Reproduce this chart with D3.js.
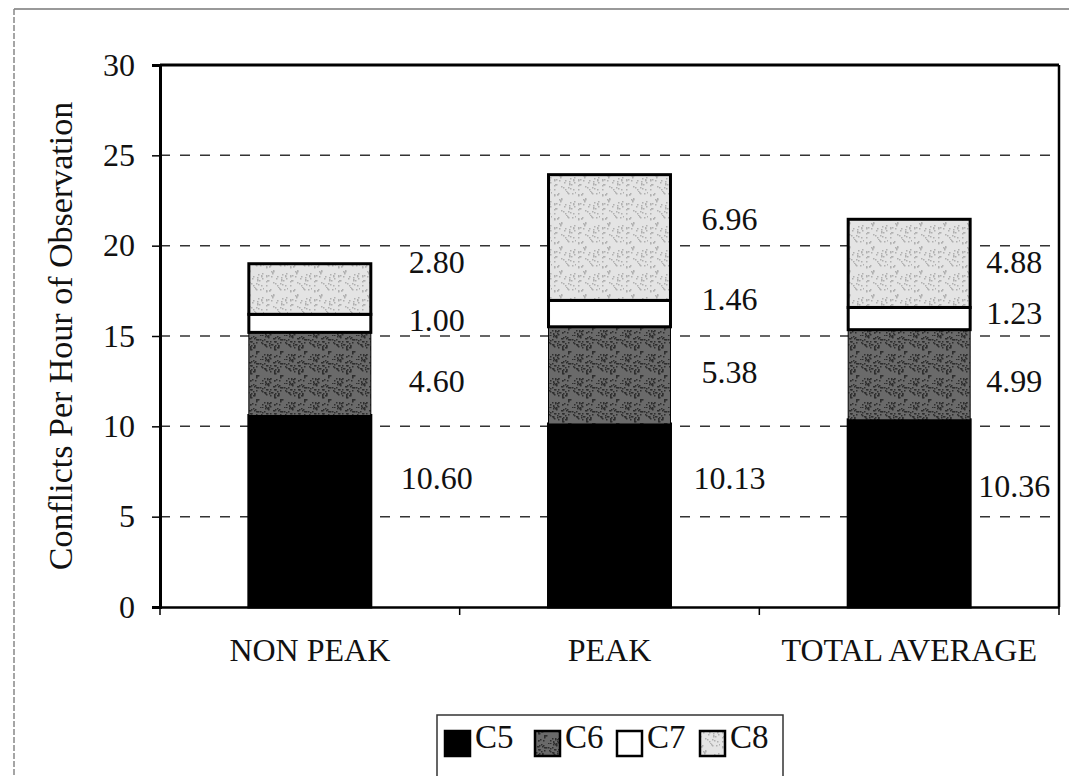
<!DOCTYPE html>
<html>
<head>
<meta charset="utf-8">
<script src="https://cdn.jsdelivr.net/npm/d3@7"></script>
<style>
  html, body { margin: 0; padding: 0; background: #fff; }
  svg { display: block; }
  text { font-family: "Liberation Serif", "DejaVu Serif", serif; fill: #111; }
</style>
</head>
<body>
<svg id="chart" width="1069" height="776"></svg>
<script>
// ---- data ----
const categories = ["NON PEAK", "PEAK", "TOTAL AVERAGE"];
const seriesNames = ["C5", "C6", "C7", "C8"];
const C5 = [10.60, 10.13, 10.36];
const C6 = [4.60, 5.38, 4.99];
const C7 = [1.00, 1.46, 1.23];
const C8 = [2.80, 6.96, 4.88];
const yTicks = [0, 5, 10, 15, 20, 25, 30];

// ---- layout constants (not data) ----
// vertical label nudge from segment middle, in value units, [series][category]
const labelNudge = [
  [1.84, 2.07, 1.52],
  [-0.4, 0.18, -0.35],
  [0.18, 0.8, 0.3],
  [1.5, 1.05, 0.08]
];
const labelShift = [127, 120, 105];         // label x offset from bar centre, px, per category

const seriesValues = [C5, C6, C7, C8];
const fills = ["#000000", "url(#pC6)", "#ffffff", "url(#pC8)"];

const svg = d3.select("#chart");
const margin = { left: 160, top: 65, right: 1059, bottom: 607 };

// patterns
const defs = svg.append("defs");
function stipple(id, base, dot, n, seed) {
  const p = defs.append("pattern").attr("id", id).attr("patternUnits", "userSpaceOnUse")
    .attr("width", 24).attr("height", 24);
  p.append("rect").attr("width", 24).attr("height", 24).attr("fill", base);
  let s = seed;
  const rnd = () => { s = (s * 9301 + 49297) % 233280; return s / 233280; };
  for (let i = 0; i < n; i++) {
    p.append("rect").attr("x", Math.floor(rnd() * 24)).attr("y", Math.floor(rnd() * 24))
      .attr("width", 1.5).attr("height", 1.5).attr("fill", dot);
  }
}
stipple("pC6", "#6a6a6a", "#2e2e2e", 70, 7);
stipple("pC8", "#e4e4e4", "#b0b0b0", 40, 13);

// outer frame
svg.append("line").attr("x1", 14).attr("x2", 1069).attr("y1", 9).attr("y2", 9)
  .attr("stroke", "#777").attr("stroke-width", 1.5);
svg.append("line").attr("x1", 14).attr("x2", 14).attr("y1", 9).attr("y2", 776)
  .attr("stroke", "#888").attr("stroke-width", 1.5).attr("stroke-dasharray", "6,2");

// scales
const x = d3.scaleBand().domain(categories).range([margin.left, margin.right]).padding(0);
const y = d3.scaleLinear().domain([0, 30]).range([margin.bottom, margin.top]);
const barW = x.bandwidth() * 0.407;

// gridlines
svg.append("g").selectAll("line").data(yTicks.filter(t => t > 0 && t < 30)).join("line")
  .attr("x1", margin.left).attr("x2", margin.right)
  .attr("y1", d => y(d)).attr("y2", d => y(d))
  .attr("stroke", "#333").attr("stroke-width", 1.5).attr("stroke-dasharray", "10,10");

// stacked bars
const stackData = categories.map((c, i) => {
  const o = { cat: c };
  seriesNames.forEach((s, j) => o[s] = seriesValues[j][i]);
  return o;
});
const stacked = d3.stack().keys(seriesNames)(stackData);

stacked.forEach((layer, j) => {
  svg.append("g").selectAll("rect").data(layer).join("rect")
    .attr("x", d => x(d.data.cat) + (x.bandwidth() - barW) / 2)
    .attr("width", barW)
    .attr("y", d => y(d[1]))
    .attr("height", d => y(d[0]) - y(d[1]))
    .attr("fill", fills[j])
    .attr("stroke", "#000")
    .attr("stroke-width", j === 1 ? 1 : 3);
});

// data labels
stacked.forEach((layer, j) => {
  svg.append("g").selectAll("text").data(layer).join("text")
    .attr("x", (d, i) => x(d.data.cat) + x.bandwidth() / 2 + labelShift[i])
    .attr("y", (d, i) => y((d[0] + d[1]) / 2 + labelNudge[j][i]))
    .attr("dy", "0.35em")
    .attr("text-anchor", "middle")
    .attr("font-size", 32)
    .text(d => (d[1] - d[0]).toFixed(2));
});

// plot frame
svg.append("line").attr("x1", margin.left).attr("x2", margin.right).attr("y1", margin.top).attr("y2", margin.top)
  .attr("stroke", "#000").attr("stroke-width", 3);
svg.append("line").attr("x1", margin.right).attr("x2", margin.right).attr("y1", margin.top).attr("y2", margin.bottom)
  .attr("stroke", "#000").attr("stroke-width", 2.5);

// y axis
const yAxis = svg.append("g").attr("transform", `translate(${margin.left},0)`)
  .call(d3.axisLeft(y).tickValues(yTicks).tickSize(8).tickPadding(17).tickFormat(d3.format("d")));
yAxis.select(".domain").attr("stroke", "#000").attr("stroke-width", 3);
yAxis.selectAll(".tick line").attr("stroke", "#000").attr("stroke-width", 1.5);
yAxis.selectAll(".tick text").attr("font-size", 32).attr("font-family", "Liberation Serif").attr("fill", "#111");

// x axis
const xAxis = svg.append("g").attr("transform", `translate(0,${margin.bottom})`)
  .call(d3.axisBottom(x).tickSize(0).tickPadding(31));
xAxis.select(".domain").attr("stroke", "#000").attr("stroke-width", 2.5);
xAxis.selectAll(".tick text").attr("font-size", 32).attr("font-family", "Liberation Serif").attr("fill", "#111");
// category boundary ticks
const bounds = categories.map(c => x(c)).concat([margin.right]);
svg.append("g").selectAll("line").data(bounds).join("line")
  .attr("x1", d => d).attr("x2", d => d)
  .attr("y1", margin.bottom).attr("y2", margin.bottom + 8)
  .attr("stroke", "#000").attr("stroke-width", 1.5);

// y title
svg.append("text")
  .attr("transform", `translate(60,${(margin.top + margin.bottom) / 2}) rotate(-90)`)
  .attr("text-anchor", "middle")
  .attr("dy", "0.35em")
  .attr("font-size", 34)
  .text("Conflicts Per Hour of Observation");

// legend
const lg = svg.append("g");
lg.append("rect").attr("x", 437).attr("y", 715).attr("width", 346).attr("height", 70)
  .attr("fill", "none").attr("stroke", "#333").attr("stroke-width", 1.5);
const legX = [445, 535, 617, 700];
seriesNames.forEach((s, j) => {
  lg.append("rect").attr("x", legX[j]).attr("y", 731).attr("width", 25).attr("height", 25)
    .attr("fill", fills[j]).attr("stroke", "#000").attr("stroke-width", 2.5);
  lg.append("text").attr("x", legX[j] + 30).attr("y", 748).attr("font-size", 33).text(s);
});
</script>
</body>
</html>
